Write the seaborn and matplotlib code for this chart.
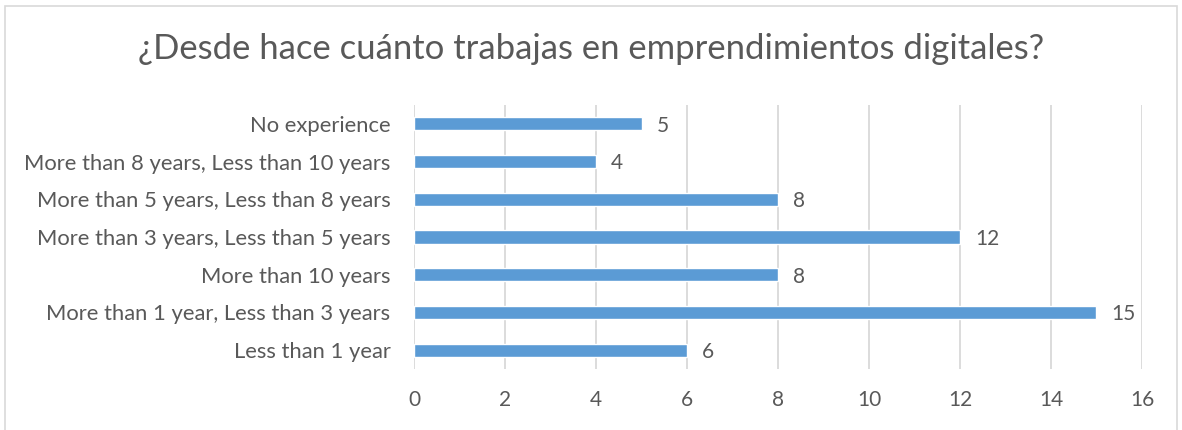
import matplotlib
matplotlib.use("Agg")
import matplotlib.pyplot as plt
import seaborn as sns
import pandas as pd
from matplotlib.patches import Rectangle

categories = [
    "No experience",
    "More than 8 years, Less than 10 years",
    "More than 5 years, Less than 8 years",
    "More than 3 years, Less than 5 years",
    "More than 10 years",
    "More than 1 year, Less than 3 years",
    "Less than 1 year",
]
counts = [5, 4, 8, 12, 8, 15, 6]
xticks = [0, 2, 4, 6, 8, 10, 12, 14, 16]
title = "¿Desde hace cuánto trabajas en emprendimientos digitales?"

df = pd.DataFrame({"categoria": categories, "n": counts})

sns.set_style("white")
plt.rcParams["font.family"] = ["Lato", "DejaVu Sans"]

text_col = "#595959"
fig = plt.figure(figsize=(11.82, 4.3), dpi=100)
ax = fig.add_axes([0.3503, 0.1419, 0.6158, 0.6139])

sns.barplot(data=df, x="n", y="categoria", color="#5B9BD5", width=0.35,
            saturation=1, ax=ax, zorder=3)

for i, v in enumerate(counts):
    ax.text(v + 0.33, i + 0.05, str(v), va="center", ha="left",
            fontsize=15, color=text_col)

ax.set_xlim(0, 16)
ax.set_xticks(xticks)
ax.set_xticklabels([str(t) for t in xticks])
ax.xaxis.grid(True, color="#D9D9D9", linewidth=1.3, zorder=0)
ax.set_axisbelow(True)
for s in ax.spines.values():
    s.set_visible(False)
ax.tick_params(axis="both", length=0, colors=text_col)
ax.tick_params(axis="x", pad=15, labelsize=15)
ax.tick_params(axis="y", pad=17, labelsize=15.8)
ax.set_xlabel("")
ax.set_ylabel("")

fig.text(0.5, 0.885, title, ha="center", va="center", fontsize=24.9,
         color=text_col)

fig.patches.append(Rectangle((0.004, -0.01), 0.992, 0.996,
                             transform=fig.transFigure, fill=False,
                             edgecolor="#D9D9D9", linewidth=1.2))

fig.savefig("out.png", dpi=100)
